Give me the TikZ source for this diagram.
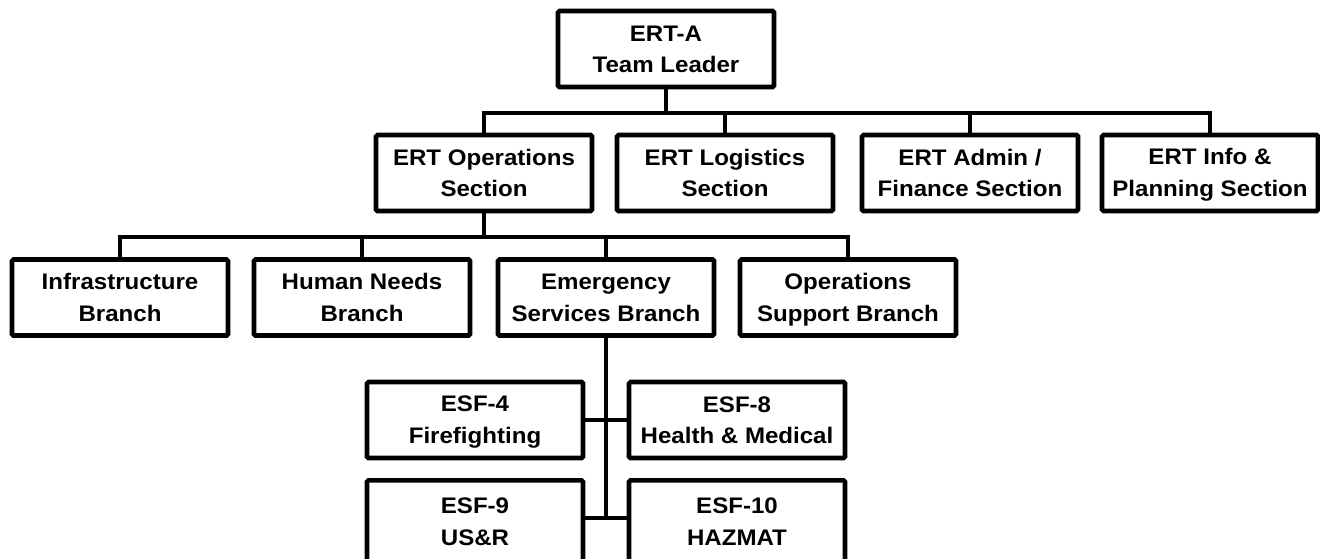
\documentclass[tikz,border=0pt]{standalone}
\usepackage{fontspec}
\setmainfont{Liberation Sans}[FakeStretch=1.07]
\newcommand{\bstrut}{\rule[-4pt]{0pt}{24pt}}
\begin{document}
\begin{tikzpicture}[x=1pt,y=-1pt,
  box/.style={draw=black, line width=4.6pt, rounded corners=1.5pt, fill=white,
    minimum width=216pt, minimum height=76pt, inner sep=0pt, align=center,
    font=\fontsize{22.5}{31.7}\selectfont\bfseries},
  tallbox/.style={box, minimum height=82pt},
  conn/.style={line width=4.6pt, line cap=rect}]
\useasboundingbox (0,0) rectangle (1320,558);
% nodes
\node[box] (top) at (666,49) {\bstrut ERT-A\\\bstrut Team Leader};
\node[box] (ops) at (484,173) {\bstrut ERT Operations\\\bstrut Section};
\node[box] (log) at (725,173) {\bstrut ERT Logistics\\\bstrut Section};
\node[box] (adm) at (970,173) {\bstrut ERT Admin /\\\bstrut Finance Section};
\node[box] (inf) at (1210,173) {\bstrut ERT Info \&\\\bstrut Planning Section};
\node[box] (infra) at (120,297.5) {\bstrut Infrastructure\\\bstrut Branch};
\node[box] (hum) at (362,297.5) {\bstrut Human Needs\\\bstrut Branch};
\node[box] (emg) at (606,297.5) {\bstrut Emergency\\\bstrut Services Branch};
\node[box] (osb) at (848,297.5) {\bstrut Operations\\\bstrut Support Branch};
\node[box] (esf4) at (475,420) {\bstrut ESF-4\\\bstrut Firefighting};
\node[box] (esf8) at (737,420) {\bstrut ESF-8\\\bstrut Health \& Medical};
\node[tallbox] (esf9) at (475,521.3) {\bstrut ESF-9\\\bstrut US\&R};
\node[tallbox] (esf10) at (737,521.3) {\bstrut ESF-10\\\bstrut HAZMAT};
% bus coordinates
\coordinate (b1) at (0,113);
\coordinate (b2) at (0,237);
\coordinate (b3) at (0,518);
% connectors
\draw[conn] (top.south) -- (top.south |- b1);
\draw[conn] (ops.north) -- (ops.north |- b1) -- (inf.north |- b1) -- (inf.north);
\draw[conn] (log.north) -- (log.north |- b1);
\draw[conn] (adm.north) -- (adm.north |- b1);
\draw[conn] (ops.south) -- (ops.south |- b2);
\draw[conn] (infra.north) -- (infra.north |- b2) -- (osb.north |- b2) -- (osb.north);
\draw[conn] (hum.north) -- (hum.north |- b2);
\draw[conn] (emg.north) -- (emg.north |- b2);
\draw[conn] (emg.south) -- (emg.south |- b3);
\draw[conn] (esf4.east) -- (esf8.west);
\draw[conn] (esf9.east |- b3) -- (esf10.west |- b3);
\end{tikzpicture}
\end{document}
